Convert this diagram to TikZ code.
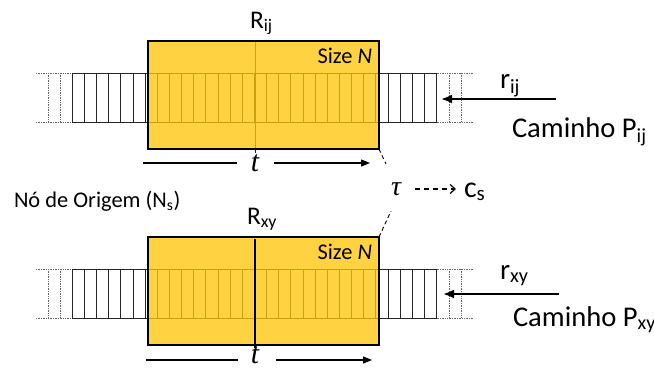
\documentclass[tikz,border=0pt]{standalone}
\usepackage{fontspec}
\setmainfont{Carlito}
\newfontfamily\serifit{Liberation Serif}[UprightFont=*-Italic]
\usetikzlibrary{arrows.meta}
\definecolor{boxgold}{RGB}{255,210,66}
\definecolor{goldline}{RGB}{205,160,20}
\tikzset{
  cellline/.style={line width=0.9bp, draw=black!85},
  innerline/.style={line width=1bp, draw=goldline},
  dotline/.style={line width=0.7bp, draw=black!60, densely dotted},
  yellowbox/.style={draw=black, line width=1.1bp, fill=boxgold,
    minimum width=231bp, minimum height=108bp, inner sep=0pt, outer sep=0pt},
  boxborder/.style={draw=black, line width=1.1bp},
  lbl/.style={inner sep=0pt, outer sep=0pt, anchor=base west},
  tarrow/.style={line width=1.1bp, draw=black},
  rarrow/.style={line width=2bp, draw=black, -{Latex[length=11bp,width=9bp]}},
  tauline/.style={line width=0.9bp, dash pattern=on 4bp off 3bp},
}
% strip outside the box (black) in local coordinates
\newcommand{\cellstrip}{%
  \draw[dotline] (36,73) -- (72.3,73) (36,122) -- (72.3,122)
    (48.45,73) -- (48.45,122) (60.6,73) -- (60.6,122);
  \draw[dotline] (436.7,73) -- (474,73) (436.7,122) -- (474,122)
    (448.85,73) -- (448.85,122) (461,73) -- (461,122);
  \draw[cellline] (148,73) -- (72.3,73) -- (72.3,122) -- (148,122);
  \draw[cellline] (379,73) -- (436.7,73) -- (436.7,122) -- (379,122);
  \foreach \k in {1,...,6,26,27,28,29} {\draw[cellline] ({72.3+\k*12.147},73) -- ++(0,49);}
}
% strip inside the box (gold lines)
\newcommand{\innerstrip}{%
  \draw[innerline] (148.6,73) -- (378.4,73) (148.6,122) -- (378.4,122);
  \foreach \k in {7,...,25} {\draw[innerline] ({72.3+\k*12.147},73) -- ++(0,49);}
}
\begin{document}
\begin{tikzpicture}[x=1bp,y=-1bp]
\useasboundingbox (0,0) rectangle (654,369);

% ---------- top block ----------
\cellstrip
\node[yellowbox] (box1) at (263.5,95) {};
\innerstrip
\draw[innerline] (255,41.6) -- (255,148.4);
\draw[cellline] (255,149.5) -- (255,153);
\draw[boxborder] (box1.north west) rectangle (box1.south east);
\node[lbl, anchor=base east, font=\fontsize{22.5}{23}\selectfont] (size1) at (372,63) {Size \textit{N}};
\node[lbl, font=\fontsize{25.5}{26}\selectfont] (R1) at (250,28) {R\textsubscript{ij}};

% t arrow top
\node[inner sep=0pt, font=\serifit\fontsize{30}{30}\selectfont] (t1) at (255,163) {t};
\coordinate (ta1) at (143,163);
\coordinate (tm1) at (237,163);
\coordinate (tn1) at (274,163);
\coordinate (tb1) at (370,163);
\draw[tarrow] (ta1) -- (tm1);
\draw[tarrow, -{Triangle[length=9bp,width=7bp]}] (tn1) -- (tb1);

% r arrow top
\node[lbl, font=\fontsize{29}{30}\selectfont] (r1) at (500,88) {r\textsubscript{ij}};
\coordinate (rs1) at (556,99);
\coordinate (re1) at (441,99);
\draw[rarrow] (rs1) -- (re1);
\node[lbl, font=\fontsize{28.7}{29}\selectfont] (cam1) at (512,137) {Caminho P\textsubscript{ij}};

% ---------- bottom block ----------
\begin{scope}[yshift=-196bp]
\cellstrip
\end{scope}
\node[yellowbox] (box2) at (263.5,291) {};
\begin{scope}[yshift=-196bp]
\innerstrip
\end{scope}
\draw[boxborder] (box2.north west) rectangle (box2.south east);
\draw[line width=1.1bp] (255,239) -- (255,348);
\node[lbl, anchor=base east, font=\fontsize{22.5}{23}\selectfont] (size2) at (372,259) {Size \textit{N}};
\node[lbl, font=\fontsize{25.5}{26}\selectfont] (R2) at (247,224) {R\textsubscript{xy}};

% t arrow bottom
\node[inner sep=0pt, font=\serifit\fontsize{30}{30}\selectfont] (t2) at (255,355.5) {t};
\coordinate (ta2) at (146,360);
\coordinate (tm2) at (238,360);
\coordinate (tn2) at (276,360);
\coordinate (tb2) at (372,360);
\draw[tarrow] (ta2) -- (tm2);
\draw[tarrow, -{Triangle[length=9bp,width=7bp]}] (tn2) -- (tb2);

% r arrow bottom
\node[lbl, font=\fontsize{29}{30}\selectfont] (r2) at (500,279) {r\textsubscript{xy}};
\coordinate (rs2) at (559,294);
\coordinate (re2) at (443,294);
\draw[rarrow] (rs2) -- (re2);
\node[lbl, font=\fontsize{28.7}{29}\selectfont] (cam2) at (513,326) {Caminho P\textsubscript{xy}};

% ---------- middle ----------
\node[lbl, font=\fontsize{22.5}{23}\selectfont] (orig) at (14,207) {Nó de Origem (N\textsubscript{s})};
\node[lbl, font=\serifit\fontsize{28}{28}\selectfont] (tau) at (391,195) {τ};
\node[lbl, font=\fontsize{30}{30}\selectfont] (cs) at (464,197) {c\textsubscript{s}};
\coordinate (da) at (415,189);
\coordinate (db) at (456,189);
\draw[line width=1.2bp, dash pattern=on 5bp off 4bp, -{Straight Barb[length=5bp,width=9bp]}] (da) -- (db);
\coordinate (u1) at (386,164);
\coordinate (u2) at (391,211);
\draw[tauline] (box1.south east) -- (u1);
\draw[tauline] (box2.north east) -- (u2);
\end{tikzpicture}
\end{document}
